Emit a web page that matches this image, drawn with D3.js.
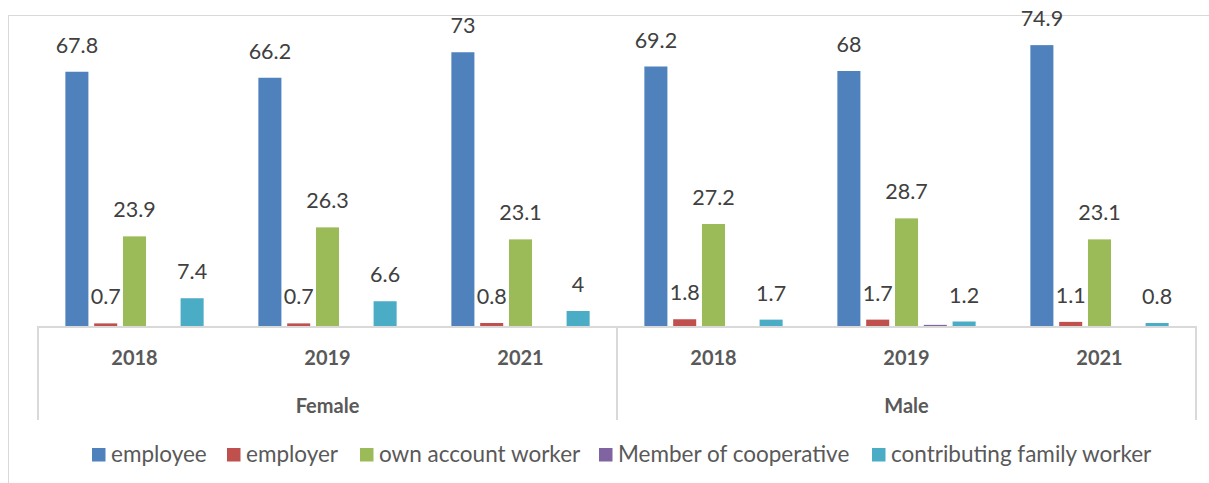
<!DOCTYPE html>
<html><head><meta charset="utf-8">
<script src="https://cdn.jsdelivr.net/npm/d3@7"></script>
<style>body{margin:0;background:#fff}svg{display:block}text{font-family:Lato,"Open Sans",sans-serif}</style>
</head><body><svg id="c" width="1209" height="483"></svg>
<script>
const groups = ["Female","Female","Female","Male","Male","Male"];
const years = ["2018","2019","2021","2018","2019","2021"];
const seriesNames = ["employee","employer","own account worker","Member of cooperative","contributing family worker"];
const colors = ["#4F81BD","#C0504D","#9BBB59","#8064A2","#4BACC6"];
const employee = [67.8,66.2,73,69.2,68,74.9];
const employer = [0.7,0.7,0.8,1.8,1.7,1.1];
const ownAccount = [23.9,26.3,23.1,27.2,28.7,23.1];
const cooperative = [0,0,0,0,0.3,0];
const contributing = [7.4,6.6,4,1.7,1.2,0.8];
const seriesValues = [employee,employer,ownAccount,cooperative,contributing];
const showLabel = [true,true,true,false,true];

const svg = d3.select("#c");
const L = 38, R = 1196, base = 326;
svg.append("rect").attr("x",8.5).attr("y",15.5).attr("width",1230).attr("height",500)
  .attr("fill","none").attr("stroke","#d9d9d9");

const x0 = d3.scaleBand().domain(d3.range(6)).range([L,R]).paddingInner(0).paddingOuter(0);
const x1 = d3.scaleBand().domain(d3.range(5)).range([0,x0.bandwidth()]).paddingInner(0.2).paddingOuter(0.95);
const y = d3.scaleLinear().domain([0,80]).range([base, base-300]);

seriesValues.forEach((vals,s)=>{
  const g = svg.append("g");
  g.selectAll("rect").data(vals).join("rect")
    .attr("x",(d,i)=>x0(i)+x1(s)).attr("width",x1.bandwidth())
    .attr("y",d=>y(d)).attr("height",d=>base-y(d)).attr("fill",colors[s]);
  if(showLabel[s]){
    g.selectAll("text").data(vals).join("text")
      .attr("x",(d,i)=>x0(i)+x1(s)+x1.bandwidth()/2).attr("y",d=>y(d)-19)
      .attr("text-anchor","middle").attr("font-size",21.5).attr("fill","#404040").text(d=>d);
  }
});

const ax = svg.append("g").attr("stroke","#d9d9d9").attr("stroke-width",2);
ax.append("line").attr("x1",L).attr("x2",R).attr("y1",base+1).attr("y2",base+1);
[L,(L+R)/2,R].forEach(xx=>ax.append("line").attr("x1",xx).attr("x2",xx).attr("y1",base).attr("y2",420));

svg.append("g").selectAll("text").data(years).join("text")
  .attr("x",(d,i)=>x0(i)+x0.bandwidth()/2).attr("y",365).attr("text-anchor","middle")
  .attr("font-size",20).attr("font-weight","bold").attr("fill","#595959").text(d=>d);
const gNames = ["Female","Male"];
svg.append("g").selectAll("text").data(gNames).join("text")
  .attr("x",(d,i)=>L+(R-L)/4+(R-L)/2*i).attr("y",413).attr("text-anchor","middle")
  .attr("font-size",20).attr("font-weight","bold").attr("fill","#595959").text(d=>d);

const lg = svg.append("g");
const lx = [92,227,360,599,872];
seriesNames.forEach((n,i)=>{
  lg.append("rect").attr("x",lx[i]).attr("y",448).attr("width",13.5).attr("height",13.5).attr("fill",colors[i]);
  lg.append("text").attr("x",lx[i]+19).attr("y",462).attr("font-size",22.5).attr("fill","#595959").text(n);
});
</script></body></html>
